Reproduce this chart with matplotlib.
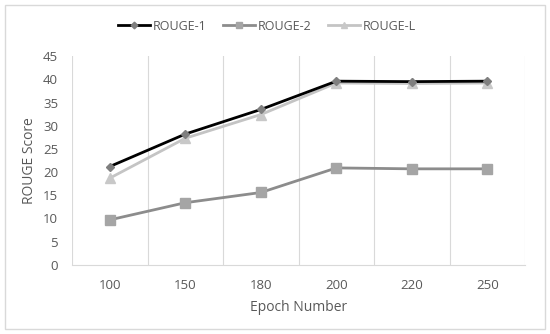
import numpy as np
import matplotlib.pyplot as plt
from matplotlib.patches import Rectangle

plt.rcParams['font.family'] = ['Open Sans', 'DejaVu Sans']

epochs = ['100', '150', '180', '200', '220', '250']
rouge1 = [21.2, 28.2, 33.5, 39.6, 39.5, 39.6]
rouge2 = [9.7, 13.4, 15.6, 20.9, 20.7, 20.7]
rougeL = [18.7, 27.3, 32.4, 39.2, 39.1, 39.2]

txt = '#595959'
fig = plt.figure(figsize=(5.5, 3.34), dpi=100)
ax = fig.add_axes([0.131, 0.207, 0.824, 0.625])

x = np.arange(len(epochs))
ax.plot(x, rouge1, color='black', lw=2, marker='D', ms=4.5, mfc='#7f7f7f', mec='#7f7f7f', label='ROUGE-1', zorder=4)
ax.plot(x, rouge2, color='#8c8c8c', lw=2, marker='s', ms=6.5, mfc='#a5a5a5', mec='#a5a5a5', label='ROUGE-2', zorder=3)
ax.plot(x, rougeL, color='#c4c4c4', lw=2, marker='^', ms=6.5, mfc='#c8c8c8', mec='#c8c8c8', label='ROUGE-L', zorder=3)

ax.set_xlim(-0.5, len(epochs) - 0.5)
ax.set_ylim(0, 45)
ax.set_yticks(np.arange(0, 46, 5))
ax.set_xticks(x)
ax.set_xticklabels(epochs)
ax.set_xticks(np.arange(-0.5, len(epochs)), minor=True)
ax.grid(True, which='minor', axis='x', color='#d9d9d9', lw=0.8)
ax.tick_params(which='both', length=0, colors=txt, labelsize=9.5)
ax.tick_params(axis='x', pad=10)
ax.tick_params(axis='y', pad=10)
for s in ['top', 'right', 'left']:
    ax.spines[s].set_visible(False)
ax.spines['bottom'].set_color('#d9d9d9')

ax.set_xlabel('Epoch Number', color=txt, fontsize=10, labelpad=6)
ax.set_ylabel('ROUGE Score', color=txt, fontsize=10, labelpad=4)

fig.legend(loc='upper center', bbox_to_anchor=(0.485, 0.975), ncol=3, frameon=False,
           fontsize=9, labelcolor=txt, handlelength=2.6, columnspacing=1.3, handletextpad=0.2,
           markerscale=0.75)

fig.patches.append(Rectangle((0.009, 0.015), 0.982, 0.97, transform=fig.transFigure,
                             fill=False, ec='#d9d9d9', lw=1))

fig.savefig('out.png', dpi=100)
